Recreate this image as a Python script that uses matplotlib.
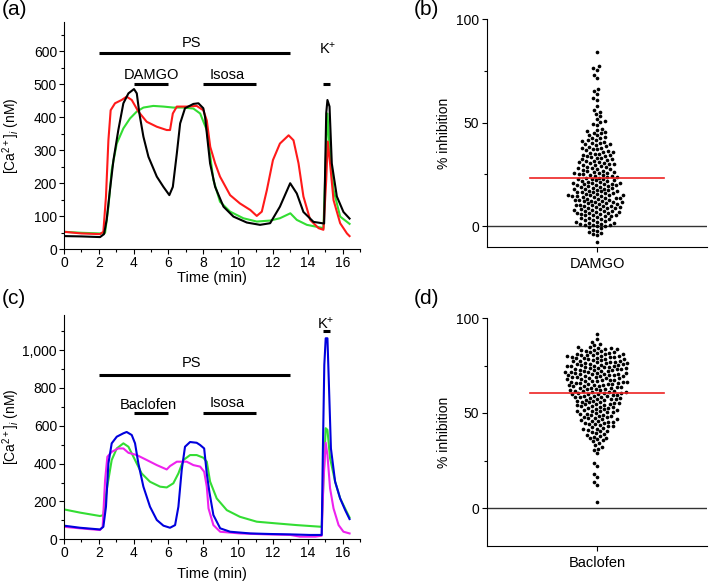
import numpy as np
import matplotlib
matplotlib.use('Agg')
import matplotlib.pyplot as plt
from matplotlib.ticker import MultipleLocator, FuncFormatter

plt.rcParams['font.family'] = ['Liberation Sans', 'DejaVu Sans']
plt.rcParams['mathtext.fontset'] = 'custom'
plt.rcParams['mathtext.rm'] = 'Liberation Sans'
plt.rcParams['mathtext.it'] = 'Liberation Sans:italic'

# ---- panel (a): DAMGO traces ----
a_black_t = [0, 1.0, 2.07, 2.3, 2.45, 2.64, 2.84, 3.12, 3.41, 3.7, 4.02, 4.18, 4.33, 4.56, 4.85, 5.33, 5.71,
             6.05, 6.25, 6.48, 6.67, 6.95, 7.43, 7.72, 8.0, 8.1, 8.39, 8.68, 9.16, 9.73, 10.5, 11.26, 11.84,
             12.4, 12.99, 13.37, 13.75, 14.33, 14.94, 15.06, 15.13, 15.25, 15.38, 15.67, 16.05, 16.4]
a_black_v = [40, 39, 37, 46, 89, 180, 270, 361, 442, 472, 485, 472, 411, 341, 280, 220, 189,
             164, 189, 290, 381, 427, 440, 442, 427, 401, 260, 189, 129, 99, 81, 74, 79,
             129, 200, 169, 113, 83, 78, 412, 452, 432, 260, 160, 113, 93]
a_red_t = [0, 1.0, 2.07, 2.26, 2.41, 2.55, 2.68, 2.93, 3.31, 3.6, 3.89, 4.27, 4.75, 5.33, 5.9, 6.09, 6.25,
           6.48, 7.05, 7.62, 8.0, 8.2, 8.4, 8.68, 8.96, 9.54, 10.1, 10.7, 11.07, 11.36, 11.65, 12.0, 12.4,
           12.9, 13.18, 13.47, 13.75, 14.14, 14.62, 14.9, 15.06, 15.15, 15.28, 15.48, 15.86, 16.25, 16.4]
a_red_v = [53, 48, 46, 53, 159, 330, 421, 442, 452, 462, 452, 417, 386, 371, 361, 361, 411,
           432, 432, 434, 421, 390, 310, 260, 220, 164, 139, 119, 101, 114, 179, 270, 320,
           345, 330, 260, 160, 89, 64, 59, 210, 326, 260, 149, 79, 48, 40]
a_green_t = [0, 1.0, 2.07, 2.36, 2.55, 2.74, 3.03, 3.41, 3.79, 4.18, 4.56, 5.13, 5.71, 6.28, 6.86, 7.43,
             7.82, 8.2, 8.58, 8.96, 9.54, 10.3, 11.07, 11.84, 12.4, 13.0, 13.37, 13.95, 14.62, 14.9,
             15.06, 15.13, 15.25, 15.48, 15.86, 16.4]
a_green_v = [53, 50, 48, 50, 129, 240, 320, 366, 396, 417, 429, 434, 432, 429, 429, 426,
             411, 361, 210, 144, 114, 94, 84, 87, 94, 109, 89, 74, 67, 64,
             310, 411, 310, 180, 99, 77]

# ---- panel (c): baclofen traces ----
c_blue_t = [0, 0.92, 2.07, 2.26, 2.41, 2.55, 2.74, 3.03, 3.41, 3.6, 3.89, 4.08, 4.27, 4.56, 4.94, 5.33,
            5.71, 6.09, 6.38, 6.57, 6.76, 6.95, 7.24, 7.62, 7.82, 8.05, 8.2, 8.35, 8.58, 8.97, 9.54,
            10.7, 11.84, 13.0, 14.1, 14.8, 14.87, 14.95, 15.03, 15.13, 15.21, 15.33, 15.57, 15.86,
            16.15, 16.4]
c_blue_v = [72, 61, 52, 66, 172, 401, 507, 542, 560, 567, 551, 507, 401, 278, 172, 102,
            72, 61, 75, 172, 366, 489, 514, 510, 498, 480, 348, 250, 128, 58, 40,
            31, 28, 26, 23, 23, 480, 921, 1062, 1062, 832, 480, 305, 216,
            154, 107]
c_mag_t = [0, 0.92, 2.07, 2.22, 2.36, 2.49, 2.74, 3.12, 3.41, 3.7, 4.18, 4.75, 5.33, 5.9, 6.09, 6.48,
           7.05, 7.43, 7.82, 8.05, 8.2, 8.3, 8.58, 8.97, 10.1, 11.65, 13.0, 13.56, 14.43, 14.8, 14.9,
           15.03, 15.13, 15.28, 15.48, 15.77, 16.05, 16.4]
c_mag_v = [66, 58, 49, 66, 313, 436, 462, 480, 480, 457, 445, 419, 392, 369, 387, 410,
           410, 392, 384, 357, 278, 163, 75, 40, 31, 26, 23, 14, 14, 19, 305,
           510, 445, 270, 163, 75, 40, 31]
c_green_t = [0, 0.92, 2.07, 2.26, 2.45, 2.74, 3.03, 3.41, 3.7, 4.08, 4.46, 4.94, 5.52, 5.9, 6.28, 6.57,
             6.86, 7.24, 7.62, 8.0, 8.2, 8.39, 8.77, 9.35, 10.1, 11.07, 12.2, 13.37, 14.8, 14.9,
             15.03, 15.13, 15.28, 15.57, 15.86, 16.4]
c_green_v = [158, 141, 123, 128, 260, 419, 480, 507, 489, 419, 348, 304, 278, 274, 296, 348,
             419, 445, 445, 431, 410, 305, 216, 154, 119, 93, 84, 75, 66, 305,
             587, 578, 429, 305, 216, 115]

# ---- panel (b) / (d): % inhibition per cell ----
damgo_inh = [84.1, 77.3, 76.6, 75.4, 73.0, 71.6, 66.2, 65.1, 63.7, 62.0, 60.9, 57.8, 56.0, 55.2,
             54.1, 53.0, 51.6, 50.8, 50.2, 49.4, 48.7, 47.1, 46.6, 46.0, 45.7, 45.2,
             44.8, 44.1, 43.9, 43.0, 42.6, 42.4, 41.7, 41.5, 41.0, 40.8, 40.3, 40.1,
             39.8, 39.5, 39.1, 38.7, 38.4, 38.0, 37.6, 37.5, 37.1, 36.6, 36.4, 36.0, 35.8, 35.4, 35.1,
             34.9, 34.6, 34.2, 34.0, 33.7, 33.3, 33.1, 32.8, 32.4, 32.3, 31.9, 31.6, 31.4, 31.0, 30.8,
             30.5, 30.3, 30.1,
             29.9, 29.6, 29.4, 29.0, 28.8, 28.5, 28.3, 27.9, 27.7, 27.4, 27.2, 26.9, 26.7, 26.4, 26.1,
             25.9, 25.7, 25.5, 25.3, 25.1,
             24.9, 24.7, 24.4, 24.2, 23.9, 23.8, 23.5, 23.3, 23.0, 22.8, 22.6, 22.3, 22.1, 21.9, 21.7,
             21.5, 21.2, 21.0, 20.9, 20.7, 20.5, 20.3, 20.2, 20.0,
             19.9, 19.7, 19.5, 19.3, 19.0, 18.9, 18.6, 18.4, 18.2, 18.0, 17.8, 17.7, 17.4, 17.2, 17.0,
             16.9, 16.6, 16.4, 16.3, 16.0, 15.9, 15.7, 15.5, 15.3, 15.2, 15.0,
             14.9, 14.7, 14.5, 14.4, 14.2, 14.0, 13.8, 13.6, 13.5, 13.3, 13.1, 12.9, 12.7, 12.5, 12.4,
             12.2, 12.0, 11.8, 11.6, 11.5, 11.3, 11.1, 10.9, 10.7, 10.5, 10.4, 10.2, 10.0,
             9.8, 9.6, 9.4, 9.2, 9.0, 8.8, 8.6, 8.4, 8.2, 8.0, 7.8, 7.6, 7.4, 7.2, 7.0, 6.8, 6.6, 6.4,
             6.2, 6.0, 5.8, 5.6, 5.4, 5.2, 5.0,
             4.8, 4.5, 4.2, 3.9, 3.6, 3.3, 3.0, 2.8, 2.5, 2.2, 2.0, 1.7, 1.4, 1.2, 1.0, 0.8, 0.6, 0.4,
             0.2, 0.0, -0.5, -1.0, -1.6, -2.1, -2.7, -3.2, -3.8, -4.4, -7.6]
baclofen_inh = [91.6, 88.9, 87.5, 86.4, 85.6,
                84.8, 84.6, 84.3, 84.0, 83.8, 83.5, 83.3, 83.0, 82.8, 82.5, 82.2, 82.0, 81.8, 81.5, 81.2,
                81.0, 80.8, 80.6, 80.4, 80.3, 80.1, 80.0,
                79.8, 79.6, 79.5, 79.3, 79.1, 78.9, 78.7, 78.5, 78.3, 78.2, 78.0, 77.8, 77.6, 77.4, 77.2,
                77.1, 76.9, 76.7, 76.5, 76.3, 76.2, 76.0, 75.8, 75.7, 75.5, 75.4, 75.2, 75.0,
                74.8, 74.7, 74.5, 74.3, 74.2, 74.0, 73.8, 73.6, 73.5, 73.3, 73.1, 73.0, 72.8, 72.6, 72.4,
                72.3, 72.1, 71.9, 71.8, 71.6, 71.4, 71.2, 71.1, 70.9, 70.7, 70.6, 70.4, 70.3, 70.1, 70.0,
                69.8, 69.6, 69.5, 69.3, 69.1, 68.9, 68.7, 68.5, 68.4, 68.2, 68.0, 67.8, 67.6, 67.4, 67.3,
                67.1, 66.9, 66.7, 66.5, 66.4, 66.2, 66.0, 65.8, 65.7, 65.5, 65.3, 65.2, 65.0,
                64.8, 64.6, 64.4, 64.2, 64.0, 63.8, 63.6, 63.4, 63.2, 63.0, 62.8, 62.6, 62.4, 62.2, 62.0,
                61.8, 61.6, 61.4, 61.2, 61.0, 60.8, 60.6, 60.5, 60.3, 60.2, 60.0,
                59.8, 59.6, 59.4, 59.2, 59.0, 58.8, 58.6, 58.4, 58.2, 58.0, 57.8, 57.6, 57.4, 57.2, 57.0,
                56.8, 56.5, 56.3, 56.0, 55.8, 55.6, 55.4, 55.2, 55.0,
                54.8, 54.5, 54.3, 54.0, 53.8, 53.5, 53.3, 53.0, 52.8, 52.5, 52.3, 52.0, 51.8, 51.5, 51.3,
                51.0, 50.8, 50.5, 50.3, 50.0,
                49.7, 49.4, 49.2, 48.9, 48.6, 48.3, 48.0, 47.7, 47.4, 47.2, 46.9, 46.6, 46.3, 46.0, 45.7,
                45.5, 45.2, 45.0,
                44.7, 44.3, 44.0, 43.6, 43.2, 42.9, 42.5, 42.2, 41.8, 41.4, 41.1, 40.7, 40.4, 40.0,
                39.5, 39.0, 38.6, 38.1, 37.6, 37.1, 36.6, 36.1, 35.6, 35.1,
                34.0, 33.0, 32.2, 31.3, 30.4, 28.7, 23.6, 21.9, 18.0, 16.4, 13.9, 12.3, 3.4]
damgo_mean = 23.5
baclofen_mean = 60.5

W, H = 709, 585
fig = plt.figure(figsize=(W / 100, H / 100), dpi=100)


def rect(l, t, r, b):
    return [l / W, 1 - b / H, (r - l) / W, (b - t) / H]


def style_trace_axes(ax, ymax, major, minor, comma=False):
    ax.set_xlim(0, 17)
    ax.set_ylim(0, ymax)
    for s in ['top', 'right']:
        ax.spines[s].set_visible(False)
    ax.xaxis.set_major_locator(MultipleLocator(2))
    ax.xaxis.set_minor_locator(MultipleLocator(1))
    ax.yaxis.set_major_locator(MultipleLocator(major))
    ax.yaxis.set_minor_locator(MultipleLocator(minor))
    ax.tick_params(which='major', direction='out', length=3.5, width=0.8, labelsize=10, pad=1.5)
    ax.tick_params(which='minor', direction='out', length=2, width=0.8)
    if comma:
        ax.yaxis.set_major_formatter(FuncFormatter(lambda v, p: f'{int(v):,}'))
    ax.set_ylabel(r'[Ca$^{2+}$]$_i$ (nM)', fontsize=10)
    ax.yaxis.set_label_coords(-0.143, 0.5)


def bar(ax, x0, x1, y, label=None, tx=None, ty=None):
    ax.plot([x0, x1], [y, y], color='black', lw=2.2, solid_capstyle='butt')
    if label:
        ax.text(tx, ty, label, ha='center', va='baseline', fontsize=10.5)


# panel (a)
ax_a = fig.add_axes(rect(64, 22, 360, 249.3))
ax_a.plot(a_green_t, a_green_v, color='#33dd33', lw=1.5)
ax_a.plot(a_red_t, a_red_v, color='#ff1a1a', lw=1.5)
ax_a.plot(a_black_t, a_black_v, color='black', lw=1.5)
style_trace_axes(ax_a, 688, 100, 50)
ax_a.set_xlabel('Time (min)', fontsize=10.5)
ax_a.xaxis.set_label_coords(0.5, -0.094)
bar(ax_a, 2, 13, 594, 'PS', 7.35, 613)
bar(ax_a, 4, 6, 499, 'DAMGO', 5.0, 516)
bar(ax_a, 8, 11, 499, 'Isosa', 9.35, 516)
bar(ax_a, 14.85, 15.3, 499, r'K$^{+}$', 15.15, 593)

# panel (c)
ax_c = fig.add_axes(rect(64, 315, 360, 539.3))
ax_c.plot(c_green_t, c_green_v, color='#33dd33', lw=1.5)
ax_c.plot(c_mag_t, c_mag_v, color='#ee22ee', lw=1.5)
ax_c.plot(c_blue_t, c_blue_v, color='#0000dd', lw=1.5)
style_trace_axes(ax_c, 1185, 200, 100, comma=True)
ax_c.set_xlabel('Time (min)', fontsize=10.5)
ax_c.xaxis.set_label_coords(0.5, -0.125)
bar(ax_c, 2, 13, 868, 'PS', 7.35, 908)
bar(ax_c, 4, 6, 665, 'Baclofen', 4.85, 687)
bar(ax_c, 8, 11, 665, 'Isosa', 9.35, 697)
bar(ax_c, 14.85, 15.3, 1102, r'K$^{+}$', 15.05, 1114)


def swarm(vals, px_per_y, px_per_x, d):
    vals = np.asarray(vals, dtype=float)
    order = np.argsort(vals)
    xs = np.zeros(len(vals))
    placed = []
    offsets = sorted(np.arange(-60, 60.5, 0.5), key=lambda o: (abs(o), o))
    for i in order:
        y = vals[i] * px_per_y
        near = [(px, py) for px, py in placed if abs(py - y) < d]
        for o in offsets:
            if all((o - px) ** 2 + (y - py) ** 2 >= d * d for px, py in near):
                break
        placed.append((o, y))
        xs[i] = o
    return 1 + xs / px_per_x


def scatter_panel(box, vals, mean, ylo, label):
    ax = fig.add_axes(rect(*box))
    wpx = box[2] - box[0]
    hpx = box[3] - box[1]
    ax.set_xlim(0, 2)
    ax.set_ylim(ylo, 100)
    xs = swarm(vals, hpx / (100 - ylo), wpx / 2, 4.3)
    ax.scatter(xs, vals, s=7, color='black', linewidths=0, zorder=3)
    ax.axhline(0, color='#333333', lw=1)
    ax.plot([0.39, 1.61], [mean, mean], color='#ee2222', lw=1.2, zorder=4)
    for s in ['top', 'right']:
        ax.spines[s].set_visible(False)
    ax.set_xticks([1])
    ax.set_xticklabels([label])
    ax.yaxis.set_major_locator(MultipleLocator(50))
    ax.yaxis.set_minor_locator(MultipleLocator(25))
    ax.tick_params(which='major', direction='out', length=3.5, width=0.8, labelsize=10, pad=2)
    ax.tick_params(axis='x', labelsize=10.5, pad=4)
    ax.tick_params(which='minor', direction='out', length=2, width=0.8)
    ax.set_ylabel('% inhibition', fontsize=10)
    ax.yaxis.set_label_coords(-0.165, 0.5)
    return ax


scatter_panel((487, 19, 707, 247), damgo_inh, damgo_mean, -10, 'DAMGO')
scatter_panel((487, 318, 707, 546), baclofen_inh, baclofen_mean, -20, 'Baclofen')

for lab, x, y in [('(a)', 2, 0), ('(b)', 414, 0), ('(c)', 2, 289), ('(d)', 414, 289)]:
    fig.text(x / W, 1 - y / H, lab, fontsize=15, ha='left', va='top')

fig.savefig('out.png', dpi=100)
